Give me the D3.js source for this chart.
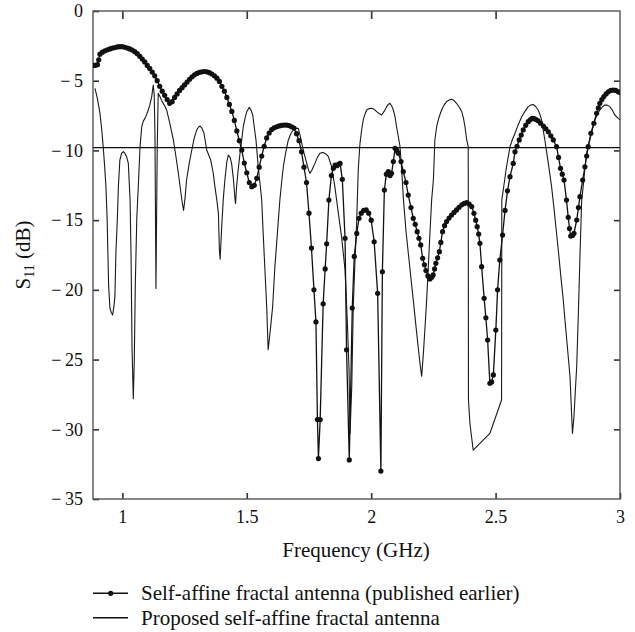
<!DOCTYPE html>
<html>
<head>
<meta charset="utf-8">
<script src="https://cdn.jsdelivr.net/npm/d3@7"></script>
<style>
  html, body { margin: 0; padding: 0; background: #fff; }
  svg { display: block; }
  text { font-family: "Liberation Serif", "Times New Roman", serif; fill: #111; }
</style>
</head>
<body>
<svg id="chart" width="635" height="632"></svg>
<script>
// ---------------- data ----------------
const xTicks = [1, 1.5, 2, 2.5, 3];
const yTicks = [0, -5, -10, -15, -20, -25, -30, -35];
const referenceLevel = -9.8;

const seriesNames = ["Self-affine fractal antenna (published earlier)", "Proposed self-affine fractal antenna"];

// Self-affine fractal antenna (published earlier) – frequency (GHz)
const earlierFreq = [0.882,0.89,0.90,0.905,0.91,0.92,0.93,0.94,0.95,0.96,0.97,0.98,0.99,1.00,1.01,1.02,1.03,1.04,1.05,1.06,1.07,1.08,1.09,1.10,1.11,1.12,1.13,1.14,1.15,1.16,1.17,1.18,1.19,1.20,1.21,1.22,1.23,1.24,1.25,1.26,1.27,1.28,1.29,1.30,1.31,1.32,1.33,1.34,1.35,1.36,1.37,1.38,1.39,1.40,1.41,1.42,1.43,1.44,1.45,1.46,1.47,1.48,1.49,1.50,1.51,1.52,1.53,1.54,1.55,1.56,1.57,1.58,1.59,1.60,1.61,1.62,1.63,1.64,1.65,1.66,1.67,1.68,1.69,1.70,1.71,1.72,1.73,1.74,1.75,1.76,1.77,1.778,1.784,1.788,1.795,1.807,1.815,1.821,1.830,1.84,1.848,1.855,1.862,1.868,1.875,1.884,1.895,1.901,1.912,1.924,1.932,1.942,1.951,1.96,1.97,1.98,1.99,2.00,2.012,2.026,2.039,2.045,2.053,2.061,2.069,2.076,2.082,2.089,2.096,2.103,2.109,2.12,2.129,2.14,2.149,2.16,2.169,2.177,2.185,2.192,2.199,2.207,2.214,2.220,2.228,2.236,2.243,2.249,2.255,2.260,2.267,2.274,2.280,2.287,2.295,2.303,2.313,2.323,2.333,2.343,2.353,2.364,2.374,2.384,2.394,2.404,2.413,2.420,2.426,2.432,2.437,2.444,2.454,2.461,2.468,2.477,2.484,2.491,2.501,2.508,2.517,2.528,2.538,2.548,2.558,2.571,2.578,2.586,2.595,2.603,2.611,2.621,2.631,2.639,2.647,2.655,2.663,2.671,2.681,2.692,2.702,2.712,2.722,2.732,2.745,2.753,2.761,2.768,2.775,2.785,2.792,2.797,2.802,2.809,2.815,2.826,2.833,2.839,2.850,2.859,2.866,2.872,2.883,2.895,2.906,2.913,2.919,2.927,2.935,2.944,2.953,2.963,2.973,2.983,2.993,3.000];
// S11 (dB)
const earlierS11 = [-3.90,-3.90,-3.85,-3.50,-3.10,-2.95,-2.85,-2.78,-2.72,-2.66,-2.62,-2.58,-2.56,-2.56,-2.60,-2.66,-2.72,-2.80,-2.92,-3.06,-3.25,-3.45,-3.65,-3.90,-4.12,-4.38,-4.65,-5.00,-5.40,-5.75,-6.05,-6.35,-6.62,-6.50,-6.20,-5.95,-5.70,-5.50,-5.30,-5.10,-4.90,-4.72,-4.58,-4.48,-4.40,-4.36,-4.34,-4.36,-4.42,-4.52,-4.65,-4.82,-5.05,-5.40,-5.75,-6.20,-6.70,-7.20,-7.85,-8.60,-9.30,-9.97,-10.90,-11.60,-12.30,-12.60,-12.50,-12.00,-11.20,-10.40,-9.70,-9.10,-8.75,-8.50,-8.38,-8.30,-8.24,-8.20,-8.18,-8.18,-8.22,-8.30,-8.40,-8.80,-9.30,-10.10,-11.20,-12.30,-14.50,-17.00,-20.00,-22.30,-29.30,-32.10,-29.30,-21.00,-18.50,-16.70,-13.56,-11.80,-11.28,-11.05,-11.10,-11.00,-10.93,-12.07,-16.30,-24.30,-32.20,-21.30,-17.60,-15.95,-14.87,-14.50,-14.30,-14.27,-14.50,-15.00,-16.55,-20.25,-33.00,-18.70,-12.84,-11.70,-11.52,-11.80,-11.64,-10.80,-9.85,-10.00,-10.20,-10.80,-11.52,-12.30,-13.20,-14.10,-14.87,-15.30,-15.83,-16.30,-16.78,-17.74,-18.20,-18.62,-19.00,-19.22,-19.10,-18.93,-18.50,-18.10,-17.70,-17.26,-16.60,-15.83,-15.40,-15.10,-14.85,-14.63,-14.45,-14.27,-14.08,-13.90,-13.80,-13.75,-13.85,-14.03,-14.51,-15.00,-15.47,-16.00,-16.66,-18.34,-20.61,-22.00,-23.60,-26.70,-26.60,-26.10,-22.88,-20.00,-17.86,-16.07,-14.30,-12.90,-11.88,-10.93,-10.10,-9.70,-9.25,-8.90,-8.53,-8.20,-7.94,-7.80,-7.70,-7.72,-7.78,-7.87,-8.05,-8.25,-8.45,-8.66,-8.95,-9.25,-9.73,-10.50,-11.28,-11.70,-12.12,-13.56,-14.80,-15.60,-16.14,-16.10,-15.95,-14.99,-14.10,-13.32,-12.12,-11.17,-10.40,-9.73,-8.77,-8.05,-7.34,-6.95,-6.62,-6.35,-6.14,-5.95,-5.79,-5.70,-5.67,-5.70,-5.79,-5.85];

// Proposed self-affine fractal antenna – frequency (GHz)
const proposedFreq = [0.89,0.90,0.91,0.917,0.923,0.929,0.934,0.939,0.942,0.945,0.950,0.955,0.961,0.966,0.970,0.974,0.980,0.984,0.990,0.997,1.004,1.010,1.017,1.024,1.031,1.035,1.039,1.044,1.048,1.052,1.058,1.064,1.071,1.078,1.084,1.091,1.098,1.104,1.111,1.118,1.124,1.128,1.131,1.135,1.140,1.144,1.150,1.160,1.170,1.178,1.190,1.205,1.215,1.225,1.235,1.242,1.246,1.252,1.258,1.268,1.279,1.289,1.299,1.305,1.312,1.320,1.328,1.339,1.355,1.365,1.372,1.380,1.386,1.390,1.393,1.400,1.406,1.412,1.420,1.426,1.433,1.439,1.446,1.453,1.455,1.459,1.466,1.473,1.480,1.486,1.493,1.500,1.510,1.517,1.524,1.530,1.537,1.546,1.556,1.560,1.566,1.573,1.580,1.586,1.591,1.596,1.604,1.613,1.623,1.633,1.640,1.647,1.657,1.667,1.677,1.687,1.697,1.707,1.714,1.721,1.730,1.741,1.748,1.754,1.762,1.774,1.784,1.794,1.807,1.818,1.828,1.841,1.854,1.868,1.881,1.895,1.904,1.911,1.915,1.922,1.928,1.935,1.942,1.948,1.955,1.962,1.968,1.975,1.982,1.992,2.002,2.012,2.022,2.032,2.042,2.052,2.062,2.069,2.075,2.082,2.089,2.096,2.102,2.109,2.116,2.123,2.130,2.140,2.150,2.160,2.169,2.180,2.190,2.197,2.203,2.210,2.217,2.223,2.230,2.236,2.243,2.250,2.256,2.263,2.273,2.283,2.293,2.303,2.313,2.323,2.333,2.343,2.354,2.364,2.371,2.377,2.384,2.390,2.391,2.397,2.410,2.477,2.524,2.525,2.535,2.544,2.558,2.568,2.578,2.590,2.605,2.618,2.631,2.641,2.651,2.661,2.671,2.678,2.685,2.691,2.698,2.705,2.712,2.718,2.725,2.734,2.743,2.752,2.762,2.772,2.779,2.786,2.793,2.799,2.806,2.809,2.815,2.820,2.826,2.833,2.839,2.846,2.852,2.859,2.866,2.872,2.879,2.889,2.899,2.909,2.919,2.929,2.939,2.949,2.959,2.969,2.979,2.993,3.000];
// S11 (dB)
const proposedS11 = [-5.55,-6.30,-7.34,-8.50,-9.73,-11.20,-12.60,-15.00,-17.50,-19.77,-21.30,-21.60,-21.80,-21.20,-20.50,-17.40,-14.87,-12.60,-10.69,-10.20,-10.09,-10.20,-10.45,-10.93,-13.56,-17.60,-24.30,-27.80,-25.00,-19.65,-14.87,-12.60,-9.73,-8.30,-7.90,-7.70,-7.40,-7.10,-6.70,-6.14,-5.31,-6.00,-8.77,-19.90,-10.00,-5.90,-6.10,-6.50,-6.80,-7.10,-8.00,-9.25,-10.40,-11.64,-13.00,-13.90,-14.30,-13.40,-12.12,-11.00,-9.97,-9.10,-8.53,-8.35,-8.25,-8.40,-8.77,-9.97,-10.69,-11.60,-12.60,-13.60,-14.51,-17.14,-17.80,-15.20,-13.40,-12.12,-10.80,-10.33,-10.50,-10.93,-12.00,-13.56,-13.80,-12.60,-11.30,-10.20,-9.20,-8.30,-7.70,-7.22,-6.91,-7.10,-7.46,-8.30,-9.25,-11.17,-12.84,-13.56,-15.95,-18.58,-21.20,-24.30,-23.50,-22.64,-21.20,-18.34,-15.95,-13.56,-12.30,-11.17,-10.10,-9.25,-8.80,-8.53,-8.42,-8.42,-8.90,-9.50,-10.20,-10.93,-11.40,-11.64,-11.40,-10.93,-10.50,-10.20,-10.14,-10.25,-10.45,-11.17,-12.60,-14.50,-16.20,-18.58,-22.20,-25.75,-30.30,-26.90,-21.20,-17.86,-15.00,-11.40,-9.49,-8.50,-7.82,-7.40,-7.10,-7.00,-6.98,-7.05,-7.22,-7.35,-7.46,-7.20,-6.86,-6.70,-6.62,-6.80,-7.10,-7.60,-8.30,-9.00,-9.73,-11.50,-13.60,-15.80,-17.50,-19.20,-20.70,-22.60,-24.30,-25.40,-26.20,-24.50,-22.50,-20.70,-18.20,-16.00,-13.56,-12.12,-9.25,-8.30,-7.60,-7.10,-6.75,-6.50,-6.38,-6.33,-6.42,-6.62,-6.90,-7.22,-7.70,-8.30,-9.25,-9.73,-27.90,-29.60,-31.50,-30.30,-27.90,-13.56,-12.30,-11.17,-9.73,-9.20,-8.77,-8.20,-7.58,-7.20,-6.86,-6.75,-6.70,-6.85,-7.10,-7.40,-7.82,-8.50,-9.25,-10.10,-10.93,-11.70,-12.60,-14.03,-15.60,-17.14,-19.00,-20.73,-22.20,-23.60,-25.00,-26.20,-29.10,-30.30,-29.10,-27.40,-25.50,-21.50,-17.60,-13.56,-12.60,-11.30,-10.20,-9.70,-9.25,-8.50,-7.82,-7.40,-7.10,-6.90,-6.74,-6.75,-6.86,-7.10,-7.46,-7.70,-7.80];

// ---------------- chart ----------------
const svg = d3.select("#chart");
const mLeft = 93, mRight = 620, mTop = 11, mBottom = 499;
const serif = '"Liberation Serif", "Times New Roman", serif';

const x = d3.scaleLinear().domain([0.882, 3]).range([mLeft, mRight]);
const y = d3.scaleLinear().domain([0, -35]).range([mTop, mBottom]);

const nE = Math.min(earlierFreq.length, earlierS11.length);
const nP = Math.min(proposedFreq.length, proposedS11.length);
const earlier = earlierFreq.slice(0, nE).map((f, i) => ({f, v: earlierS11[i]}));
const proposed = proposedFreq.slice(0, nP).map((f, i) => ({f, v: proposedS11[i]}));

svg.append("clipPath").attr("id", "plotclip")
  .append("rect").attr("x", mLeft).attr("y", mTop).attr("width", mRight - mLeft).attr("height", mBottom - mTop);

const fmt = d => d < 0 ? "\u2212\u2009" + (-d) : String(d);

const gx = svg.append("g").attr("transform", `translate(0,${mBottom})`)
  .call(d3.axisBottom(x).tickValues(xTicks).tickSize(-6).tickPadding(11).tickFormat(d => String(d)));
const gy = svg.append("g").attr("transform", `translate(${mLeft},0)`)
  .call(d3.axisLeft(y).tickValues(yTicks).tickSize(-6).tickPadding(10).tickFormat(fmt));
const gt = svg.append("g").attr("transform", `translate(0,${mTop})`)
  .call(d3.axisTop(x).tickValues(xTicks.slice(0, 4)).tickSize(-8).tickFormat(() => ""));
const gr = svg.append("g").attr("transform", `translate(${mRight},0)`)
  .call(d3.axisRight(y).tickValues(yTicks.slice(1, 7)).tickSize(-6).tickFormat(() => ""));

[gx, gy, gt, gr].forEach(g => {
  g.attr("font-family", serif);
  g.select(".domain").remove();
  g.selectAll(".tick line").attr("stroke", "#333").attr("stroke-width", 1.6);
  g.selectAll(".tick text").style("font-family", serif).style("font-size", "18px").attr("fill", "#111");
});

svg.append("rect").attr("x", mLeft).attr("y", mTop).attr("width", mRight - mLeft).attr("height", mBottom - mTop)
  .attr("fill", "none").attr("stroke", "#555").attr("stroke-width", 1.4);

const plot = svg.append("g").attr("clip-path", "url(#plotclip)");

plot.append("line").attr("x1", mLeft).attr("x2", mRight)
  .attr("y1", y(referenceLevel)).attr("y2", y(referenceLevel))
  .attr("stroke", "#111").attr("stroke-width", 1.1);

const line = d3.line().x(d => x(d.f)).y(d => y(d.v));

plot.append("path").datum(proposed).attr("d", line)
  .attr("fill", "none").attr("stroke", "#1a1a1a").attr("stroke-width", 1.1).attr("stroke-linejoin", "round");

plot.append("path").datum(earlier).attr("d", line)
  .attr("fill", "none").attr("stroke", "#111").attr("stroke-width", 1.3).attr("stroke-linejoin", "round");

plot.selectAll("circle.m").data(earlier).join("circle").attr("class", "m")
  .attr("cx", d => x(d.f)).attr("cy", d => y(d.v)).attr("r", 2.6).attr("fill", "#111");

svg.append("text").attr("x", 356).attr("y", 557)
  .attr("text-anchor", "middle").style("font-family", serif).style("font-size", "21px").text("Frequency (GHz)");

const yl = svg.append("text").attr("transform", `translate(30,${(mTop + mBottom) / 2}) rotate(-90)`)
  .attr("text-anchor", "middle").style("font-family", serif).style("font-size", "21px");
yl.append("tspan").text("S");
yl.append("tspan").attr("dy", 4).style("font-size", "14px").text("11");
yl.append("tspan").attr("dy", -4).text(" (dB)");

const legend = svg.append("g");
const rows = [593.3, 617.7];
seriesNames.forEach((name, i) => {
  const ly = rows[i];
  legend.append("line").attr("x1", 93).attr("x2", 128).attr("y1", ly).attr("y2", ly)
    .attr("stroke", "#111").attr("stroke-width", 1.6);
  if (i === 0) legend.append("circle").attr("cx", 110.7).attr("cy", ly).attr("r", 2.6).attr("fill", "#111");
  legend.append("text").attr("x", 141).attr("y", ly + 7).style("font-family", serif).style("font-size", "21px").text(name);
});
</script>
</body>
</html>
